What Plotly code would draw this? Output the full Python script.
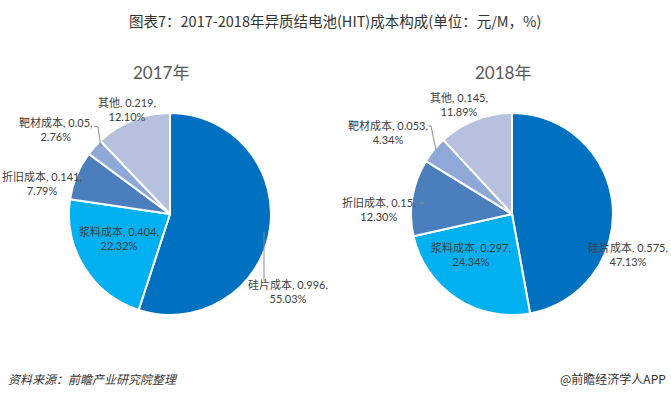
import plotly.graph_objects as go

W, H = 671, 398

categories = ["硅片成本", "浆料成本", "折旧成本", "靶材成本", "其他"]
values_2017 = [0.996, 0.404, 0.141, 0.05, 0.219]
pct_2017 = ["55.03%", "22.32%", "7.79%", "2.76%", "12.10%"]
values_2018 = [0.575, 0.297, 0.15, 0.053, 0.145]
pct_2018 = ["47.13%", "24.34%", "12.30%", "4.34%", "11.89%"]
years = ["2017年", "2018年"]

colors = ["#0070C0", "#00B0F0", "#4A7EBD", "#8EA8D8", "#B5C1DE"]
FONT = "Lato, 'Noto Sans CJK SC', sans-serif"
CJK = "'Noto Sans CJK SC', sans-serif"
TXT = "#404040"


def px(x, y):
    return x / W, 1 - y / H


fig = go.Figure()

# pie geometry (pixel centers, radius)
centers = [(170, 214), (512, 214)]
R = 101
for (cx, cy), vals in zip(centers, [values_2017, values_2018]):
    x0, y1 = px(cx - R, cy - R)
    x1, y0 = px(cx + R, cy + R)
    fig.add_trace(go.Pie(
        labels=categories, values=vals, sort=False, direction="clockwise",
        rotation=0, textinfo="none", hoverinfo="label+value+percent",
        marker=dict(colors=colors, line=dict(color="white", width=2)),
        domain=dict(x=[x0, x1], y=[y0, y1]), showlegend=False,
    ))


def ann(x, y, text, font, xanchor="center"):
    ax, ay = px(x, y)
    return dict(x=ax, y=ay, xref="paper", yref="paper", showarrow=False,
                xanchor=xanchor, yanchor="middle", text=text, font=font, align="center")


# label positions (pixel, center of the two-line label)
label_pos = [
    [(288, 291), (119, 238), (42, 183), (56, 129), (127, 109)],
    [(628, 254), (471, 254), (379, 210), (388, 132), (459, 104)],
]
annotations = []
for yi, (vals, pcts) in enumerate([(values_2017, pct_2017), (values_2018, pct_2018)]):
    for ci, cat in enumerate(categories):
        annotations.append(ann(*label_pos[yi][ci], f"{cat}, {vals[ci]:g},<br>{pcts[ci]}",
                               dict(family=FONT, size=11, color=TXT)))

for (tx, ty), yr in zip([(161, 73), (503, 73)], years):
    annotations.append(ann(tx, ty, yr, dict(family=FONT, size=17, color="#595959")))

annotations.append(ann(335, 21, "图表7：2017-2018年异质结电池(HIT)成本构成(单位：元/M，%)",
                       dict(family=CJK, size=14.5, color="#333333")))
annotations.append(ann(6, 378, "<i>资料来源：前瞻产业研究院整理</i>",
                       dict(family=CJK, size=12, color="#333333"), xanchor="left"))
annotations.append(ann(668, 378, "@前瞻经济学人APP",
                       dict(family=CJK, size=12, color="#333333"), xanchor="right"))

# leader lines (pixel coords)
leaders = [
    [(264, 232), (264, 281)],
    [(94, 126), (98, 127), (101, 147)],
    [(78, 177), (82, 177)],
    [(428, 126), (431, 126), (436, 150)],
    [(420, 203), (424, 203)],
]
shapes = []
for pts in leaders:
    for (ax, ay), (bx, by) in zip(pts[:-1], pts[1:]):
        x0, y0 = px(ax, ay)
        x1, y1 = px(bx, by)
        shapes.append(dict(type="line", xref="paper", yref="paper", x0=x0, y0=y0, x1=x1, y1=y1,
                           line=dict(color="#8C8C8C", width=1)))

fig.update_layout(
    width=W, height=H, margin=dict(l=0, r=0, t=0, b=0),
    paper_bgcolor="white", plot_bgcolor="white",
    annotations=annotations, shapes=shapes,
)
fig.write_html("out.html", config={"displayModeBar": False},
               post_script="document.body.style.margin='0';")
